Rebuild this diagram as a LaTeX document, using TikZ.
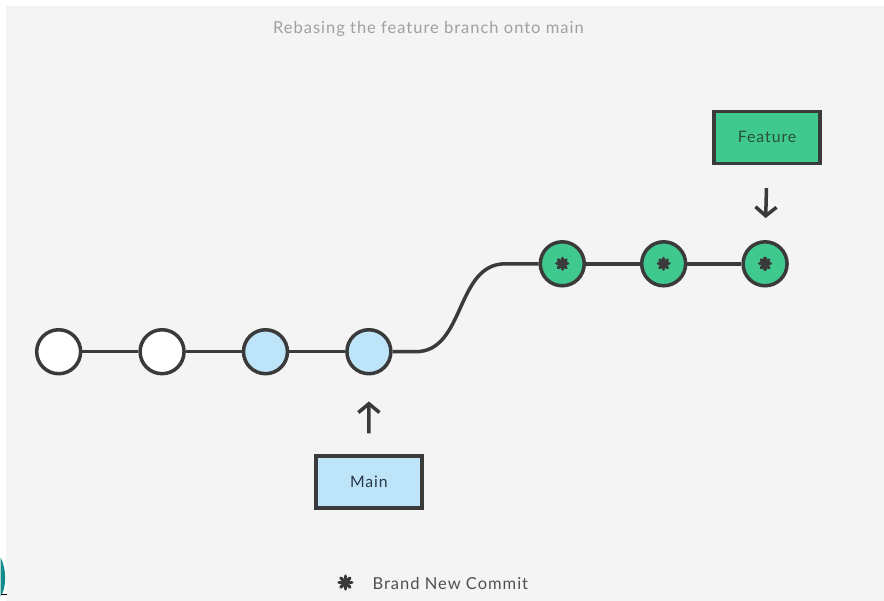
\documentclass[tikz,border=0pt]{standalone}
\usepackage{fontspec}
\setmainfont{Lato}
\newfontfamily\spacedfont[LetterSpace=6]{Lato}
\usetikzlibrary{arrows.meta,positioning,calc}
\definecolor{panelgray}{RGB}{244,244,244}
\definecolor{linegray}{RGB}{58,58,58}
\definecolor{commitblue}{RGB}{190,228,250}
\definecolor{commitgreen}{RGB}{64,201,142}
\definecolor{titlegray}{RGB}{160,160,160}
\definecolor{notegray}{RGB}{80,80,80}
\definecolor{maintext}{RGB}{40,55,70}
\definecolor{featuretext}{RGB}{40,80,60}
\definecolor{cropteal}{RGB}{20,140,140}

\begin{document}
\begin{tikzpicture}[x=0.02cm,y=-0.02cm,
  commit/.style={circle, draw=linegray, line width=2pt, minimum size=0.88cm, inner sep=0pt},
  oldcommit/.style={commit, fill=white},
  bluecommit/.style={commit, fill=commitblue},
  greencommit/.style={commit, fill=commitgreen},
  tagbox/.style={draw=linegray, line width=2pt, minimum width=2.12cm, minimum height=1.04cm, font=\spacedfont\fontsize{9}{11}\selectfont},
  bluetag/.style={tagbox, fill=commitblue, text=maintext},
  greentag/.style={tagbox, fill=commitgreen, text=featuretext},
  link/.style={draw=linegray, line width=2pt},
  arr/.style={-{Straight Barb[length=5pt,width=12pt,line width=2pt]}, line width=2pt, linegray},
  spoke/.style={line width=1.9pt, linegray, line cap=round},
  lnote/.style={font=\spacedfont\fontsize{9.4}{11}\selectfont}
]
% canvas
\fill[white] (0,0) rectangle (884,601);
\fill[panelgray] (5,6) rectangle (884,601);
\fill[cropteal] (0,558) .. controls (6,570) and (6,588) .. (0,597) -- cycle;
\draw[black, line width=0.8pt] (0,595) -- (6,595);

\node[lnote, text=titlegray] (title) at (428,28.5) {Rebasing the feature branch onto main};

% main history
\node[oldcommit]  (c1) at (58,352) {};
\node[oldcommit,  right=1.12cm of c1] (c2) {};
\node[bluecommit, right=1.12cm of c2] (c3) {};
\node[bluecommit, right=1.12cm of c3] (c4) {};

% rebased commits
\node[greencommit] (f1) at (562,264) {};
\node[greencommit, right=1.08cm of f1] (f2) {};
\node[greencommit, right=1.08cm of f2] (f3) {};

\draw[link] (c1) -- (c2);
\draw[link] (c2) -- (c3);
\draw[link] (c3) -- (c4);
\draw[link] (c4.east) -- ++(23,0) .. controls (465,352) and (455,264) .. (505,264) -- (f1.west);
\draw[link] (f1) -- (f2);
\draw[link] (f2) -- (f3);

% branch labels
\node[bluetag]  (main)    at (368.5,482.5) {Main};
\node[greentag] (feature) at (767,137.5)   {Feature};
\draw[arr, shorten <=0.42cm, shorten >=0.52cm] (main.north) -- (c4.south);
\draw[arr, shorten <=0.46cm, shorten >=0.44cm] (feature.south) -- (f3.north);

% legend
\coordinate (key) at (345,583);
\node[lnote, text=notegray, anchor=west] (keytext) at (366,583.5) {Brand New Commit};

% asterisks
\foreach \c/\r in {f1/0.11,f2/0.11,f3/0.11,key/0.13}
  \foreach \a in {0,45,90,135}
    \draw[spoke] ($(\c)+(\a:\r cm)$) -- ($(\c)+(\a+180:\r cm)$);
\end{tikzpicture}
\end{document}
